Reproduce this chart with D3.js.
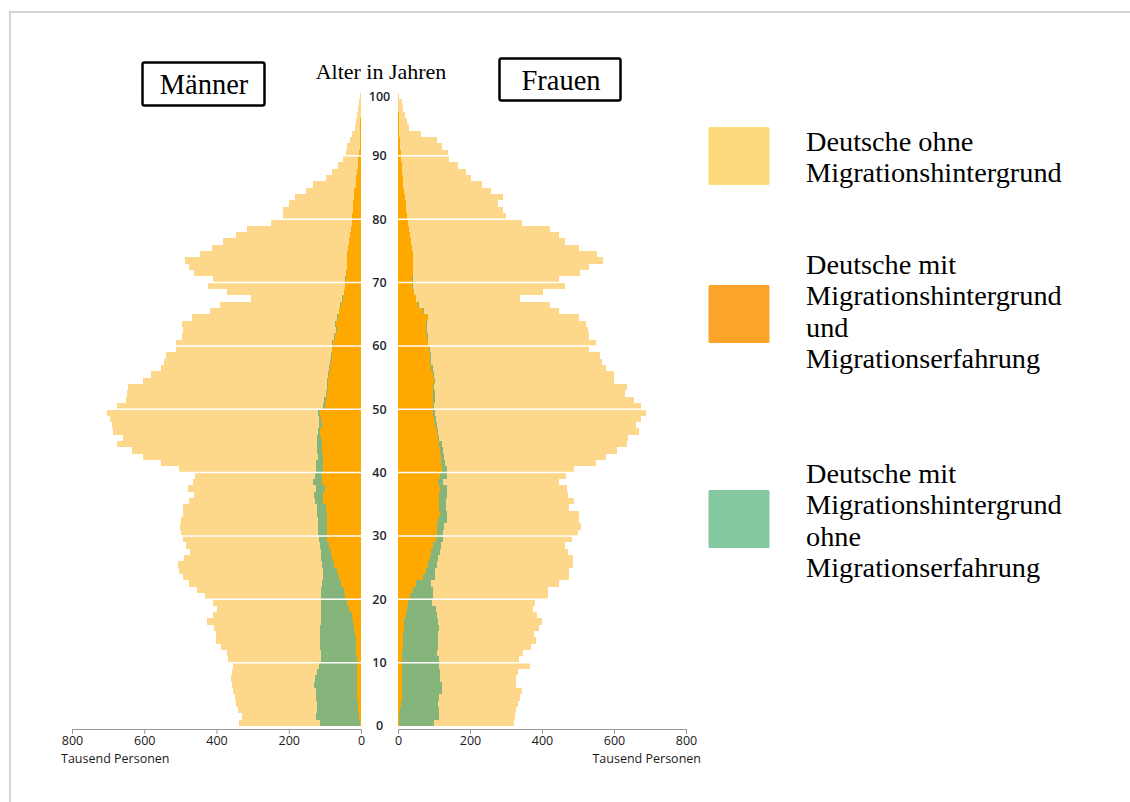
<!DOCTYPE html><html lang="de">
<head>
  <meta charset="UTF-8">
  <title>Bevölkerungspyramide</title>
  <script src="https://d3js.org/d3.v7.min.js"></script>
  <style>
    body {
      margin: 0;
      background: white;
    }
    .serif {
      font-family: "Liberation Serif", "Times New Roman", serif;
      fill: #000;
    }
    .axis text, .unit {
      font-family: "Open Sans", sans-serif;
      font-size: 12.5px;
      fill: #1a1a1a;
    }
    .age {
      font-family: "Open Sans", sans-serif;
      font-size: 12.5px;
      font-weight: 600;
      fill: #1f2430;
    }
  </style>
</head>
<body>
<svg width="1130" height="802"></svg>
<script>
// Altersjahre (Kategorien)
const ages = [0,1,2,3,4,5,6,7,8,9,10,11,12,13,14,15,16,17,18,19,20,21,22,23,24,25,26,27,28,29,
  30,31,32,33,34,35,36,37,38,39,40,41,42,43,44,45,46,47,48,49,50,51,52,53,54,55,56,57,58,59,
  60,61,62,63,64,65,66,67,68,69,70,71,72,73,74,75,76,77,78,79,80,81,82,83,84,85,86,87,88,89,
  90,91,92,93,94,95,96,97,98,99];

// Männer, Tausend Personen
const menMitErfahrung = [3,5,7,9,10,11,12,12,11,11,12,13,14,15,17,19,22,26,32,38,43,48,55,60,67,
  74,81,84,88,93,95,93,95,95,97,104,104,100,107,109,104,106,104,107,109,112,113,109,111,113,
  101,98,95,92,90,89,86,83,81,79,78,72,67,69,65,60,56,51,46,43,42,41,40,40,38,35,32,30,29,26,
  25,23,21,20,18,15,13,11,9,7,5,4,3,3,2,2,1,1,1,0];
const menOhneErfahrung = [110,120,116,114,115,114,118,115,112,104,100,99,99,98,96,94,90,85,79,72,
  67,62,54,46,39,35,30,27,25,22,23,25,23,26,26,23,26,25,25,18,20,18,16,14,12,9,7,6,5,5,
  4,4,3,3,3,3,2,2,2,2,2,2,2,2,1,1,1,1,1,1,1,0,0,0,0,0,0,0,0,0,
  0,0,0,0,0,0,0,0,0,0,0,0,0,0,0,0,0,0,0,0];
const menOhneHintergrund = [225,205,218,223,224,230,228,234,235,240,255,260,275,288,288,294,315,298,287,299,
  322,345,366,386,397,397,379,362,371,377,381,383,381,373,369,348,332,353,332,333,
  381,430,484,512,555,539,566,575,579,586,571,549,551,549,510,490,466,460,457,430,
  431,421,423,424,401,357,333,253,325,380,368,420,435,447,408,378,349,317,286,224,
  190,192,178,163,134,117,85,68,54,43,37,36,27,21,14,11,9,6,4,2];

// Frauen, Tausend Personen
const womenMitErfahrung = [3,4,6,8,10,11,11,11,11,11,12,12,13,14,15,17,18,21,24,29,33,41,50,70,79,
  84,89,93,98,105,107,107,112,116,114,114,114,116,110,116,121,119,119,116,113,110,107,104,101,98,
  96,98,98,96,100,96,93,90,89,87,82,81,79,78,82,70,56,50,44,40,40,41,41,41,41,39,36,33,31,28,
  26,23,21,19,17,15,13,11,10,8,7,6,5,4,3,2,2,1,1,0];
const womenOhneErfahrung = [98,109,107,104,103,110,112,107,105,103,102,97,97,98,97,96,92,88,81,66,
  65,55,43,32,25,23,23,23,21,20,18,21,23,21,19,19,21,21,15,19,14,11,8,8,8,5,5,5,5,5,
  5,4,4,3,3,3,3,3,2,2,2,2,2,2,1,1,1,1,1,1,1,0,0,0,0,0,0,0,0,0,
  0,0,0,0,0,0,0,0,0,0,0,0,0,0,0,0,0,0,0,0];
const womenOhneHintergrund = [221,211,214,221,227,223,205,210,217,253,222,238,260,270,267,278,290,278,270,286,
  318,320,353,374,372,378,373,355,345,358,374,380,369,365,341,355,338,332,323,332,
  355,420,450,483,516,525,558,553,570,585,575,554,529,536,498,502,483,473,471,442,
  466,447,446,442,419,375,364,288,357,424,407,465,490,529,511,463,429,415,390,317,
  273,269,257,273,240,217,189,179,157,133,133,115,102,60,27,22,17,14,9,4];

const xTicks = [0, 200, 400, 600, 800];
const gridAges = [10, 20, 30, 40, 50, 60, 70, 80, 90];
const ageLabels = [0, 10, 20, 30, 40, 50, 60, 70, 80, 90, 100];

const keys = ["mit", "ohneErf", "ohneHg"];
const barColor = { mit: "#fea800", ohneErf: "#85b57b", ohneHg: "#fdd88a" };

const legendItems = [
  { color: "#fcd97c", lines: ["Deutsche ohne", "Migrationshintergrund"], box: 127, base: 151 },
  { color: "#fca32a", lines: ["Deutsche mit", "Migrationshintergrund", "und", "Migrationserfahrung"], box: 285, base: 274 },
  { color: "#84c8a0", lines: ["Deutsche mit", "Migrationshintergrund", "ohne", "Migrationserfahrung"], box: 490, base: 483 }
];

const svg = d3.select("svg");

// grauer Rahmen oben/links
svg.append("line").attr("x1", 9).attr("x2", 1130).attr("y1", 12).attr("y2", 12)
  .attr("stroke", "#d4d4d4").attr("stroke-width", 2);
svg.append("line").attr("x1", 10).attr("x2", 10).attr("y1", 12).attr("y2", 802)
  .attr("stroke", "#d4d4d4").attr("stroke-width", 2);

const xL = d3.scaleLinear().domain([0, 800]).range([361, 72]);
const xR = d3.scaleLinear().domain([0, 800]).range([398, 686]);
const y = d3.scaleLinear().domain([0, 100]).range([726, 92.5]);

const men = ages.map((a, i) => ({ age: a, mit: menMitErfahrung[i], ohneErf: menOhneErfahrung[i], ohneHg: menOhneHintergrund[i] }));
const women = ages.map((a, i) => ({ age: a, mit: womenMitErfahrung[i], ohneErf: womenOhneErfahrung[i], ohneHg: womenOhneHintergrund[i] }));

const stack = d3.stack().keys(keys);

function drawSide(data, x, left) {
  const g = svg.append("g").attr("shape-rendering", "crispEdges");
  g.selectAll("g")
    .data(stack(data))
    .enter()
    .append("g")
    .attr("fill", d => barColor[d.key])
    .selectAll("rect")
    .data(d => d)
    .enter()
    .append("rect")
    .attr("x", d => left ? x(d[1]) : x(d[0]))
    .attr("width", d => Math.abs(x(d[1]) - x(d[0])))
    .attr("y", d => y(d.data.age + 1))
    .attr("height", d => y(d.data.age) - y(d.data.age + 1));
}
drawSide(men, xL, true);
drawSide(women, xR, false);

// weiße Gitterlinien
svg.append("g").selectAll("line")
  .data(gridAges)
  .enter()
  .append("line")
  .attr("x1", xL(800)).attr("x2", xR(800))
  .attr("y1", d => y(d)).attr("y2", d => y(d))
  .attr("stroke", "#fff").attr("stroke-width", 1.5);

// Alterslabels in der Mitte
svg.append("g").selectAll("text")
  .data(ageLabels)
  .enter()
  .append("text")
  .attr("class", "age")
  .attr("x", 379.5)
  .attr("y", d => d === 100 ? y(d) + 4 : y(d))
  .attr("dy", "0.35em")
  .attr("text-anchor", "middle")
  .text(d => d);

// Achsen
function axis(scale, tx) {
  const a = svg.append("g")
    .attr("class", "axis")
    .attr("transform", `translate(0,${tx})`)
    .call(d3.axisBottom(scale).tickValues(xTicks).tickSize(5).tickPadding(2).tickFormat(d3.format("d")));
  a.select(".domain").attr("stroke", "#999");
  a.selectAll(".tick line").attr("stroke", "#999");
}
axis(xL, 729);
axis(xR, 729);

svg.append("text").attr("class", "unit").attr("x", 61).attr("y", 763).text("Tausend Personen");
svg.append("text").attr("class", "unit").attr("x", 701).attr("y", 763).attr("text-anchor", "end").text("Tausend Personen");

// Titel
svg.append("rect").attr("x", 142.5).attr("y", 62.5).attr("width", 122).attr("height", 43).attr("rx", 2)
  .attr("fill", "none").attr("stroke", "#000").attr("stroke-width", 2.5);
svg.append("text").attr("class", "serif").attr("x", 204).attr("y", 94)
  .attr("text-anchor", "middle").style("font-size", "28.5px").text("Männer");
svg.append("rect").attr("x", 499.5).attr("y", 58.5).attr("width", 121).attr("height", 42).attr("rx", 2)
  .attr("fill", "none").attr("stroke", "#000").attr("stroke-width", 2.5);
svg.append("text").attr("class", "serif").attr("x", 561).attr("y", 90)
  .attr("text-anchor", "middle").style("font-size", "28.5px").text("Frauen");
svg.append("text").attr("class", "serif").attr("x", 381).attr("y", 79)
  .attr("text-anchor", "middle").style("font-size", "22px").text("Alter in Jahren");

// Legende
const lg = svg.append("g");
legendItems.forEach(item => {
  lg.append("rect").attr("x", 708.5).attr("y", item.box).attr("width", 61).attr("height", 58)
    .attr("rx", 1.5).attr("fill", item.color);
  const t = lg.append("text").attr("class", "serif").style("font-size", "28.3px");
  item.lines.forEach((l, i) => {
    t.append("tspan").attr("x", 806).attr("y", item.base + i * 31.3).text(l);
  });
});
</script>
</body>
</html>
